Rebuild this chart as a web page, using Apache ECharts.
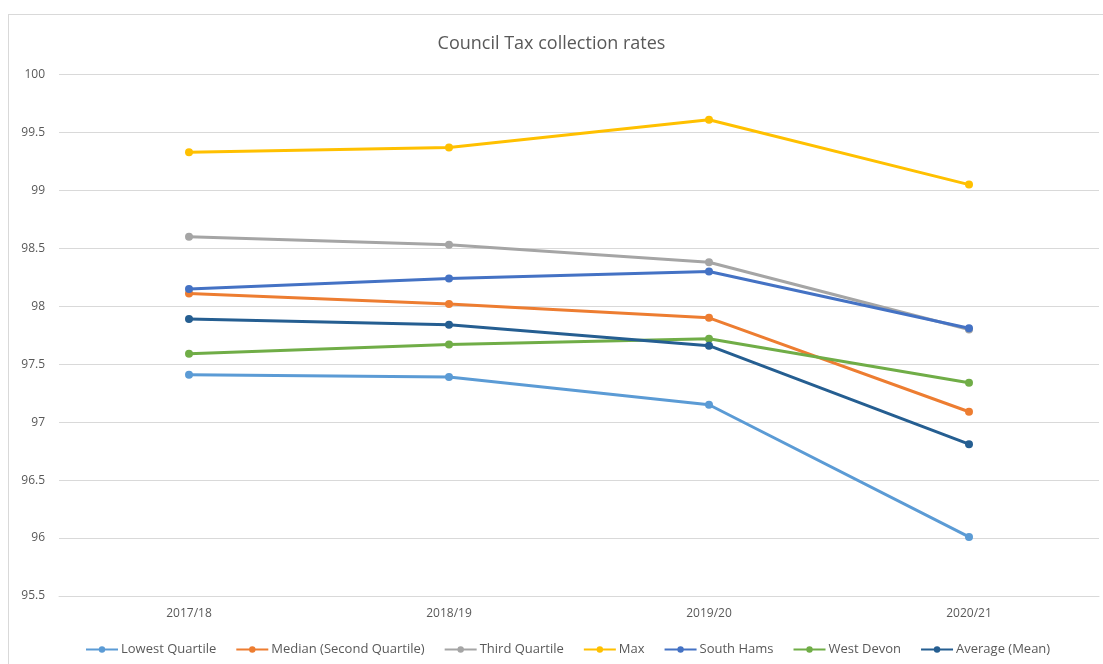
<!DOCTYPE html>
<html>
<head>
<meta charset="utf-8">
<script src="https://cdn.jsdelivr.net/npm/echarts@6/dist/echarts.min.js"></script>
<style>
  html, body { margin: 0; padding: 0; background: #fff; }
  #frame { position: absolute; left: 8px; top: 14px; width: 1110px; height: 660px; border: 1px solid #d9d9d9; }
  #chart { position: absolute; left: 0; top: 0; width: 1103px; height: 664px; }
</style>
</head>
<body>
<div id="frame"></div>
<div id="chart"></div>
<script>
const years = ["2017/18", "2018/19", "2019/20", "2020/21"]

const lowestQuartile = [97.41, 97.39, 97.15, 96.01]
const median = [98.11, 98.02, 97.90, 97.09]
const thirdQuartile = [98.60, 98.53, 98.38, 97.80]
const maxRate = [99.33, 99.37, 99.61, 99.05]
const southHams = [98.15, 98.24, 98.30, 97.81]
const westDevon = [97.59, 97.67, 97.72, 97.34]
const average = [97.89, 97.84, 97.66, 96.81]

const yTicks = [95.5, 100, 0.5] // min, max, step

const series = [
  { name: "Lowest Quartile", data: lowestQuartile, color: "#5B9BD5" },
  { name: "Median (Second Quartile)", data: median, color: "#ED7D31" },
  { name: "Third Quartile", data: thirdQuartile, color: "#A5A5A5" },
  { name: "Max", data: maxRate, color: "#FFC000" },
  { name: "South Hams", data: southHams, color: "#4472C4" },
  { name: "West Devon", data: westDevon, color: "#70AD47" },
  { name: "Average (Mean)", data: average, color: "#255E91" },
]

const chart = echarts.init(document.getElementById("chart"), null, { renderer: "canvas" })

chart.setOption({
  animation: false,
  backgroundColor: "transparent",
  textStyle: { fontFamily: "Open Sans, sans-serif" },
  title: {
    text: "Council Tax collection rates",
    left: "center",
    top: 30,
    textStyle: { fontSize: 18, fontWeight: "normal", color: "#595959", fontFamily: "Open Sans, sans-serif" },
  },
  legend: {
    top: 638,
    left: 80,
    itemWidth: 32,
    itemHeight: 8,
    itemGap: 19,
    textStyle: { fontSize: 13, color: "#595959", padding: [0, 0, 0, -2] },
  },
  grid: { left: 59, right: 4, top: 74.5, bottom: 68, containLabel: false },
  xAxis: {
    type: "category",
    data: years,
    boundaryGap: true,
    axisLine: { show: true, lineStyle: { color: "#d9d9d9" } },
    axisTick: { show: false },
    axisLabel: { color: "#595959", fontSize: 12, margin: 12 },
  },
  yAxis: {
    type: "value",
    min: yTicks[0],
    max: yTicks[1],
    interval: yTicks[2],
    axisLine: { show: false },
    axisTick: { show: false },
    axisLabel: { color: "#595959", fontSize: 12, margin: 14 },
    splitLine: { lineStyle: { color: "#d9d9d9", width: 1 } },
  },
  series: series.map(s => ({
    name: s.name,
    type: "line",
    data: s.data,
    symbol: "circle",
    symbolSize: 8,
    lineStyle: { width: 3, color: s.color },
    itemStyle: { color: s.color },
  })),
})
</script>
</body>
</html>
